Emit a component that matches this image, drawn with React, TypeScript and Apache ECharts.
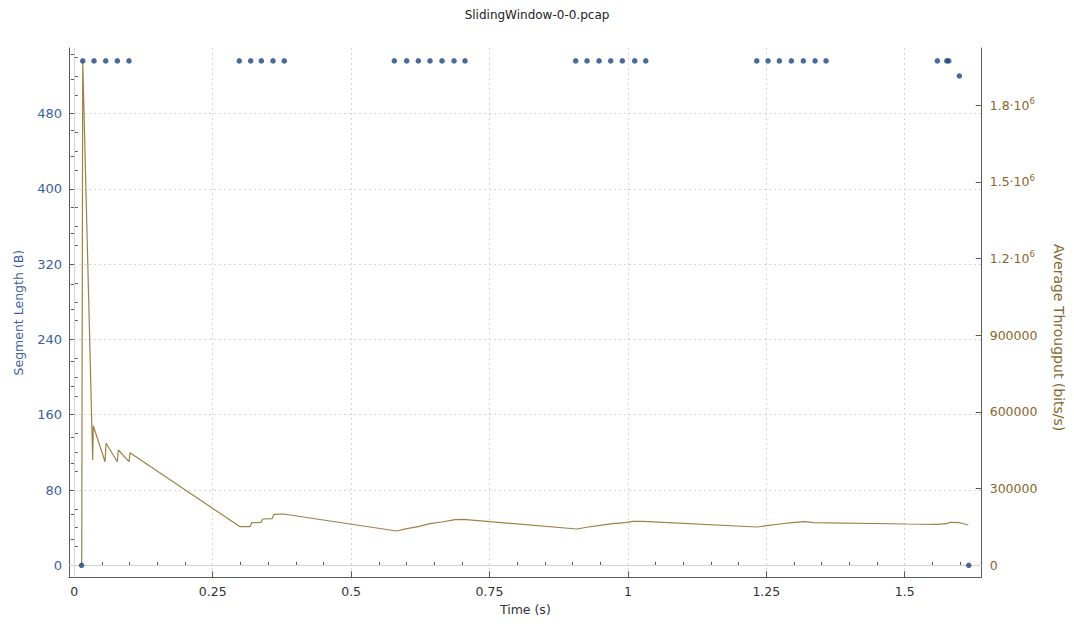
import React, { useEffect, useRef } from "react";
import * as echarts from "echarts";

const TITLE = "SlidingWindow-0-0.pcap";
const X_NAME = "Time (s)";
const LEFT_NAME = "Segment Length (B)";
const RIGHT_NAME = "Average Througput (bits/s)";

// Segment length scatter (time s, bytes)
const segTimes = [
  0.013, 0.0152, 0.0356, 0.0567, 0.0777, 0.0988,
  0.298, 0.3186, 0.3378, 0.3589, 0.3793,
  0.578, 0.6004, 0.6214, 0.6425, 0.6642, 0.6859, 0.7057,
  0.9057, 0.9261, 0.9478, 0.9689, 0.9899, 1.0123, 1.0322,
  1.2327, 1.2531, 1.2735, 1.2952, 1.3168, 1.338, 1.3578,
  1.5589, 1.5759, 1.5795, 1.5986, 1.6156,
];
const segLengths = [
  0, 536, 536, 536, 536, 536,
  536, 536, 536, 536, 536,
  536, 536, 536, 536, 536, 536, 536,
  536, 536, 536, 536, 536, 536, 536,
  536, 536, 536, 536, 536, 536, 536,
  536, 536, 536, 520, 0,
];

// Average throughput line (time s, bits/s)
const tputTimes = [
  0.0134, 0.0152, 0.0332, 0.0343, 0.0555, 0.0573, 0.0777, 0.0795, 0.0988, 0.1006,
  0.1246, 0.2993, 0.3174, 0.3204, 0.3373, 0.3403, 0.3571, 0.3607, 0.3775,
  0.5824, 0.6004, 0.6214, 0.6425, 0.6637, 0.6877, 0.7027,
  0.9075, 0.9285, 0.9496, 0.9731, 0.9948, 1.0092, 1.0273,
  1.2327, 1.2507, 1.2748, 1.2959, 1.3199, 1.3349,
  1.5023, 1.5584, 1.5759, 1.5819, 1.5999, 1.6149,
];
const tputValues = [
  0, 1972500, 411900, 546000, 405200, 477200, 405200, 451000, 405200, 440400,
  405200, 151000, 151000, 166600, 168200, 181100, 182300, 199500, 200600,
  134200, 143200, 151000, 162700, 169400, 178400, 179900,
  142000, 149800, 156400, 162700, 166600, 172100, 172100,
  149800, 154900, 161500, 166600, 170500, 166600,
  161500, 160300, 162700, 168200, 166600, 157600,
];

// Axis ticks
const timeTicks = [0, 0.25, 0.5, 0.75, 1, 1.25, 1.5];
const timeMinorSub = 5;
const timeMinorLast = 1.6;
const segTicks = [0, 80, 160, 240, 320, 400, 480];
const segMinorSub = 4;
const segMinorLast = 540;
const tputTicks = [0, 300000, 600000, 900000, 1200000, 1500000, 1800000];
const tputMinorSub = 3;
const tputMinorLast = 2000000;

// Axis ranges
const timeRange = [-0.0096, 1.639];
const segRange = [-12.75, 549.7];
const tputRange = [-46940, 2023300];

const BLUE = "#3a5fa4";
const DOT = "#1a4585";
const BROWN = "#87672a";
const LINE = "#9e8146";
const AXIS = "#5a5a5a";
const GRIDC = "#d6d6d6";
const FONT = "DejaVu Sans";

function minorValues(ticks: number[], sub: number, last: number): number[] {
  const step = (ticks[1] - ticks[0]) / sub;
  const out: number[] = [];
  for (let i = 1; ticks[0] + i * step <= last + step * 1e-6; i++) {
    if (i % sub === 0) continue;
    out.push(Math.round((ticks[0] + i * step) * 1e6) / 1e6);
  }
  return out;
}

function fmtTime(v: number) {
  return String(Math.round(v * 1000) / 1000);
}

export default function App() {
  const ref = useRef<HTMLDivElement>(null);
  useEffect(() => {
    if (!ref.current) return;
    const chart = echarts.init(ref.current, null, { renderer: "svg" });
    const baseX = {
      type: "value" as const,
      min: timeRange[0],
      max: timeRange[1],
      position: "bottom" as const,
      gridIndex: 0,
    };
    const baseL = {
      type: "value" as const,
      min: segRange[0],
      max: segRange[1],
      position: "left" as const,
      gridIndex: 0,
    };
    const baseR = {
      type: "value" as const,
      min: tputRange[0],
      max: tputRange[1],
      position: "right" as const,
      gridIndex: 0,
    };
    const option: any = {
      animation: false,
      backgroundColor: "#ffffff",
      textStyle: { fontFamily: FONT },
      title: {
        text: TITLE,
        left: "center",
        top: 4,
        textStyle: { fontFamily: FONT, fontSize: 12, fontWeight: "normal", color: "#222" },
      },
      grid: {
        left: 69,
        right: 92.3,
        top: 48,
        bottom: 49.7,
        containLabel: false,
        outerBoundsMode: "none",
      },
      xAxis: [
        {
          ...baseX,
          name: X_NAME,
          nameLocation: "middle",
          nameGap: 24,
          nameTextStyle: { fontFamily: FONT, fontSize: 12.5, color: "#333" },
          axisLine: { show: true, onZero: false, lineStyle: { color: AXIS, width: 1 } },
          axisTick: { show: true, inside: true, length: 6, customValues: timeTicks, lineStyle: { color: AXIS } },
          axisLabel: {
            show: true,
            customValues: timeTicks,
            formatter: fmtTime,
            color: "#333",
            fontSize: 12.5,
            fontFamily: FONT,
            margin: 8,
          },
          splitLine: { show: true, lineStyle: { color: GRIDC, type: [2, 3], width: 1 } },
          minorTick: { show: false },
        },
        {
          ...baseX,
          axisLine: { show: false },
          axisTick: {
            show: true,
            inside: true,
            length: 3.5,
            customValues: minorValues(timeTicks, timeMinorSub, timeMinorLast),
            lineStyle: { color: AXIS },
          },
          axisLabel: { show: false },
          splitLine: { show: false },
        },
      ],
      yAxis: [
        {
          ...baseL,
          name: LEFT_NAME,
          nameLocation: "middle",
          nameGap: 44,
          nameTextStyle: { fontFamily: FONT, fontSize: 12.5, color: BLUE },
          axisLine: { show: true, onZero: false, lineStyle: { color: AXIS, width: 1 } },
          axisTick: { show: true, inside: true, length: 6, customValues: segTicks, lineStyle: { color: AXIS } },
          axisLabel: {
            show: true,
            customValues: segTicks,
            formatter: (v: number) => String(v),
            color: BLUE,
            fontSize: 13,
            fontFamily: FONT,
            margin: 7,
          },
          splitLine: { show: true, lineStyle: { color: GRIDC, type: [2, 3], width: 1 } },
        },
        {
          ...baseL,
          axisLine: { show: false },
          axisTick: {
            show: true,
            inside: true,
            length: 3.5,
            customValues: minorValues(segTicks, segMinorSub, segMinorLast),
            lineStyle: { color: AXIS },
          },
          axisLabel: { show: false },
          splitLine: { show: false },
        },
        {
          ...baseR,
          name: RIGHT_NAME,
          nameLocation: "middle",
          nameRotate: -90,
          nameGap: 70,
          nameTextStyle: { fontFamily: FONT, fontSize: 14, color: BROWN, padding: [0, 0, 0, 50] },
          axisLine: { show: true, onZero: false, lineStyle: { color: AXIS, width: 1 } },
          axisTick: { show: true, inside: true, length: 6, customValues: tputTicks, lineStyle: { color: AXIS } },
          axisLabel: {
            show: true,
            customValues: tputTicks,
            formatter: (v: number) =>
              v >= 1e6 ? `{n|${(v / 1e6).toFixed(1)}·10}{s|6}` : `{n|${v}}`,
            rich: {
              n: { fontSize: 12.5, color: BROWN, fontFamily: FONT, lineHeight: 17 },
              s: { fontSize: 8.5, color: BROWN, fontFamily: FONT, lineHeight: 11, verticalAlign: "top" },
            },
            color: BROWN,
            fontSize: 12.5,
            fontFamily: FONT,
            margin: 8,
          },
          splitLine: { show: false },
        },
        {
          ...baseR,
          axisLine: { show: false },
          axisTick: {
            show: true,
            inside: true,
            length: 3.5,
            customValues: minorValues(tputTicks, tputMinorSub, tputMinorLast),
            lineStyle: { color: AXIS },
          },
          axisLabel: { show: false },
          splitLine: { show: false },
        },
      ],
      series: [
        {
          name: "Average Throughput",
          type: "line",
          xAxisIndex: 0,
          yAxisIndex: 2,
          data: tputTimes.map((t, i) => [t, tputValues[i]]),
          showSymbol: false,
          symbol: "none",
          lineStyle: { color: LINE, width: 1.2 },
          itemStyle: { color: LINE },
          clip: false,
          z: 3,
        },
        {
          name: "Segment Length",
          type: "scatter",
          xAxisIndex: 0,
          yAxisIndex: 0,
          data: segTimes.map((t, i) => [t, segLengths[i]]),
          symbol: "circle",
          symbolSize: 5.5,
          itemStyle: { color: DOT },
          clip: false,
          z: 4,
          markLine: {
            silent: true,
            symbol: ["none", "none"],
            label: { show: false },
            lineStyle: { color: "#d2d2d2", type: "solid", width: 1 },
            data: [{ yAxis: 0 }, { xAxis: 0 }],
            z: 1,
          },
        },
      ],
    };
    chart.setOption(option);
    return () => chart.dispose();
  }, []);
  return (
    <div
      ref={ref}
      style={{ position: "fixed", left: 0, top: 0, width: 1074, height: 627, background: "#fff" }}
    />
  );
}
